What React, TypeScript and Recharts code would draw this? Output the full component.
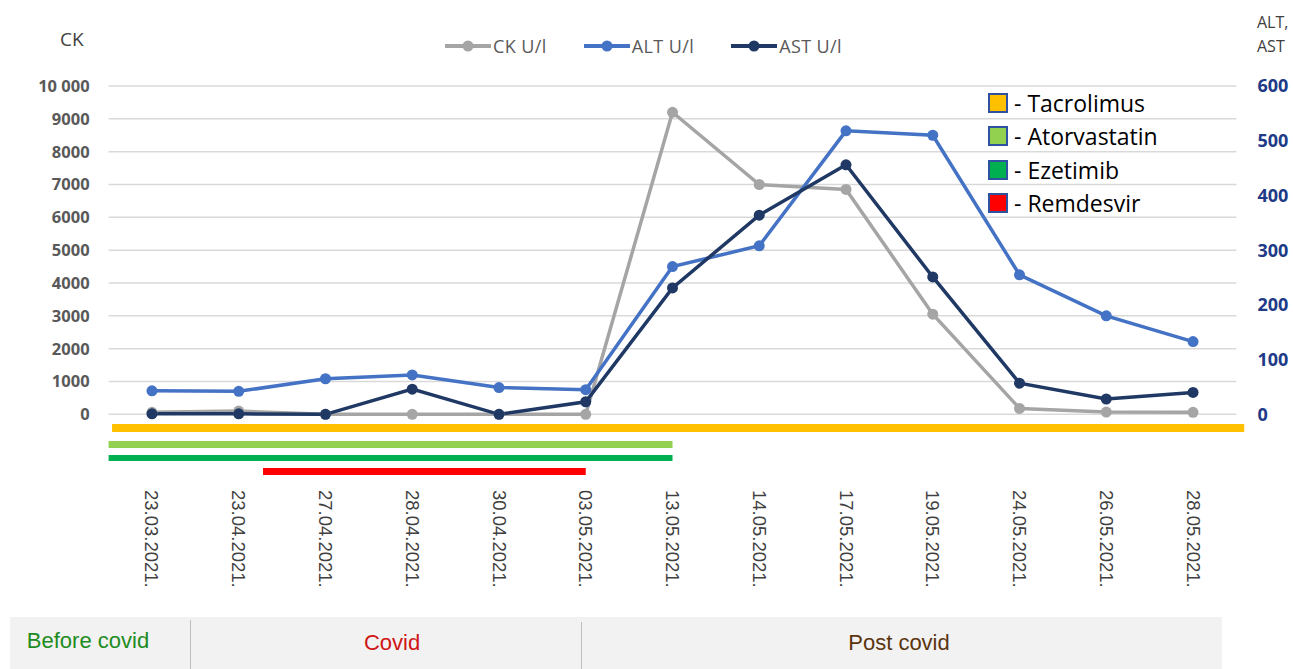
import React from 'react';
import { LineChart, Line, XAxis, YAxis, ReferenceLine, Legend } from 'recharts';

const categories = ['23.03.2021.', '23.04.2021.', '27.04.2021.', '28.04.2021.', '30.04.2021.', '03.05.2021.', '13.05.2021.', '14.05.2021.', '17.05.2021.', '19.05.2021.', '24.05.2021.', '26.05.2021.', '28.05.2021.'];
const ckValues = [60, 100, 0, 0, 0, 0, 9200, 7000, 6850, 3050, 180, 70, 60];
const altValues = [43, 42, 65, 72, 49, 45, 270, 308, 518, 510, 255, 180, 133];
const astValues = [1, 1, 0, 46, 0, 23, 231, 364, 456, 251, 57, 28, 40];

const ckTicks = [0, 1000, 2000, 3000, 4000, 5000, 6000, 7000, 8000, 9000, 10000];
const enzymeTicks = [0, 100, 200, 300, 400, 500, 600];

// drug periods, in category index units (start, end) and lane order
const drugNames = ['Tacrolimus', 'Atorvastatin', 'Ezetimib', 'Remdesvir'];
const drugStart = [-0.46, -0.5, -0.5, 1.28];
const drugEnd = [12.59, 6.0, 6.0, 5.0];
const drugLane = [0, 1.13, 2.07, 3];

const drugColors = ['#ffc000', '#92d050', '#00b050', '#ff0000'];
const drugWidths = [8, 7, 6, 7];

const periods = ['Before covid', 'Covid', 'Post covid'];

const series = [
  { key: 'ck', name: 'CK U/l', color: '#a5a5a5', axis: 'ck' },
  { key: 'alt', name: 'ALT U/l', color: '#4472c4', axis: 'enz' },
  { key: 'ast', name: 'AST U/l', color: '#1f3864', axis: 'enz' },
];

const data = categories.map((c, i) => ({ x: i, label: c, ck: ckValues[i], alt: altValues[i], ast: astValues[i] }));

const FONT = '"Open Sans", "Noto Sans", sans-serif';

const XTick = (props: any) => {
  const { x, y, payload } = props;
  return (
    <g transform={`translate(${x},${y + 10}) rotate(90)`}>
      <text x={0} y={0} dy="0.35em" textAnchor="start" fill="#404040" fontSize={18.5} fontFamily='"Liberation Sans", Arial, sans-serif'>
        {categories[payload.value]}
      </text>
    </g>
  );
};

const LegendContent = () => (
  <div style={{ display: 'flex', gap: 37, fontFamily: FONT, fontSize: 18, letterSpacing: 0.4, color: '#595959', alignItems: 'center' }}>
    {series.map((s) => (
      <div key={s.key} style={{ display: 'flex', alignItems: 'center' }}>
        <svg width={46} height={14}>
          <line x1={0} y1={7} x2={46} y2={7} stroke={s.color} strokeWidth={4} />
          <circle cx={23} cy={7} r={5.5} fill={s.color} />
        </svg>
        <span style={{ marginLeft: 2 }}>{s.name}</span>
      </div>
    ))}
  </div>
);

export default function App() {
  return (
    <div style={{ position: 'absolute', left: 0, top: 0, width: 1293, height: 669, background: '#fff', fontFamily: FONT }}>
      <div style={{ position: 'absolute', left: 60, top: 26, fontSize: 19, color: '#404040' }}>CK</div>
      <div style={{ position: 'absolute', left: 1257, top: 10, fontSize: 16, color: '#404040', lineHeight: '24px' }}>
        ALT,<br />AST
      </div>
      <LineChart width={1293} height={610} data={data} margin={{ top: 86, right: 0, bottom: 0, left: 0 }}>
        <XAxis
          type="number"
          dataKey="x"
          domain={[-0.5, 12.5]}
          ticks={categories.map((_, i) => i)}
          interval={0}
          allowDataOverflow
          axisLine={false}
          tickLine={false}
          tickSize={0}
          tickMargin={0}
          height={130}
          tick={<XTick />}
        />
        <YAxis
          yAxisId="ck"
          orientation="left"
          width={108.6}
          domain={[-2000, 10000]}
          ticks={ckTicks}
          allowDataOverflow
          axisLine={false}
          tickLine={false}
          tickSize={0}
          tickMargin={19}
          tickFormatter={(v: number) => (v >= 10000 ? '10 000' : String(v))}
          tick={{ fill: '#595959', fontSize: 16.5, fontWeight: 700, fontFamily: FONT }}
        />
        <YAxis
          yAxisId="enz"
          orientation="right"
          width={56.6}
          domain={[-120, 600]}
          ticks={enzymeTicks}
          allowDataOverflow
          axisLine={false}
          tickLine={false}
          tickSize={0}
          tickMargin={21}
          tick={{ fill: '#203a88', fontSize: 18, fontWeight: 700, fontFamily: FONT }}
        />
        <YAxis yAxisId="lane" hide reversed type="number" domain={[-23.59, 3.586]} allowDataOverflow />
        {ckTicks.map((t) => (
          <ReferenceLine key={`g${t}`} yAxisId="ck" y={t} stroke="#d9d9d9" strokeWidth={1.5} />
        ))}
        {drugNames.map((d, i) => (
          <ReferenceLine
            key={d}
            yAxisId="lane"
            ifOverflow="visible"
            segment={[{ x: drugStart[i], y: drugLane[i] }, { x: drugEnd[i], y: drugLane[i] }]}
            stroke={drugColors[i]}
            strokeWidth={drugWidths[i]}
          />
        ))}
        {series.map((s) => (
          <Line
            key={s.key}
            yAxisId={s.axis}
            dataKey={s.key}
            name={s.name}
            stroke={s.color}
            strokeWidth={3.5}
            dot={{ r: 5.5, fill: s.color, stroke: s.color, strokeWidth: 0 }}
            activeDot={false}
            isAnimationActive={false}
          />
        ))}
        <Legend
          verticalAlign="middle"
          layout="horizontal"
          align="center"
          wrapperStyle={{ top: 34, left: 445, width: 480, height: 24 }}
          content={<LegendContent />}
        />
      </LineChart>
      <div style={{ position: 'absolute', left: 988, top: 86, fontSize: 23, color: '#000', fontFamily: FONT }}>
        {drugNames.map((d, i) => (
          <div key={d} style={{ display: 'flex', alignItems: 'center', height: 33.5 }}>
            <div style={{ width: 16, height: 16, background: drugColors[i], border: '2px solid #2f52a0', marginRight: 6 }} />
            <span>- {d}</span>
          </div>
        ))}
      </div>
      <div style={{ position: 'absolute', left: 10, top: 617, width: 1212, height: 52, background: '#f2f2f2', fontFamily: '"Liberation Sans", Arial, sans-serif', fontSize: 22 }}>
        <div style={{ position: 'absolute', left: 180, top: 3, width: 1, height: 49, background: '#bfbfbf' }} />
        <div style={{ position: 'absolute', left: 571, top: 5, width: 1, height: 47, background: '#bfbfbf' }} />
        <div style={{ position: 'absolute', left: 0, width: 156, top: 11, textAlign: 'center', color: '#1e8c1e' }}>{periods[0]}</div>
        <div style={{ position: 'absolute', left: 342, width: 80, top: 13, textAlign: 'center', color: '#d01515' }}>{periods[1]}</div>
        <div style={{ position: 'absolute', left: 789, width: 200, top: 13, textAlign: 'center', color: '#5a3510' }}>{periods[2]}</div>
      </div>
    </div>
  );
}
